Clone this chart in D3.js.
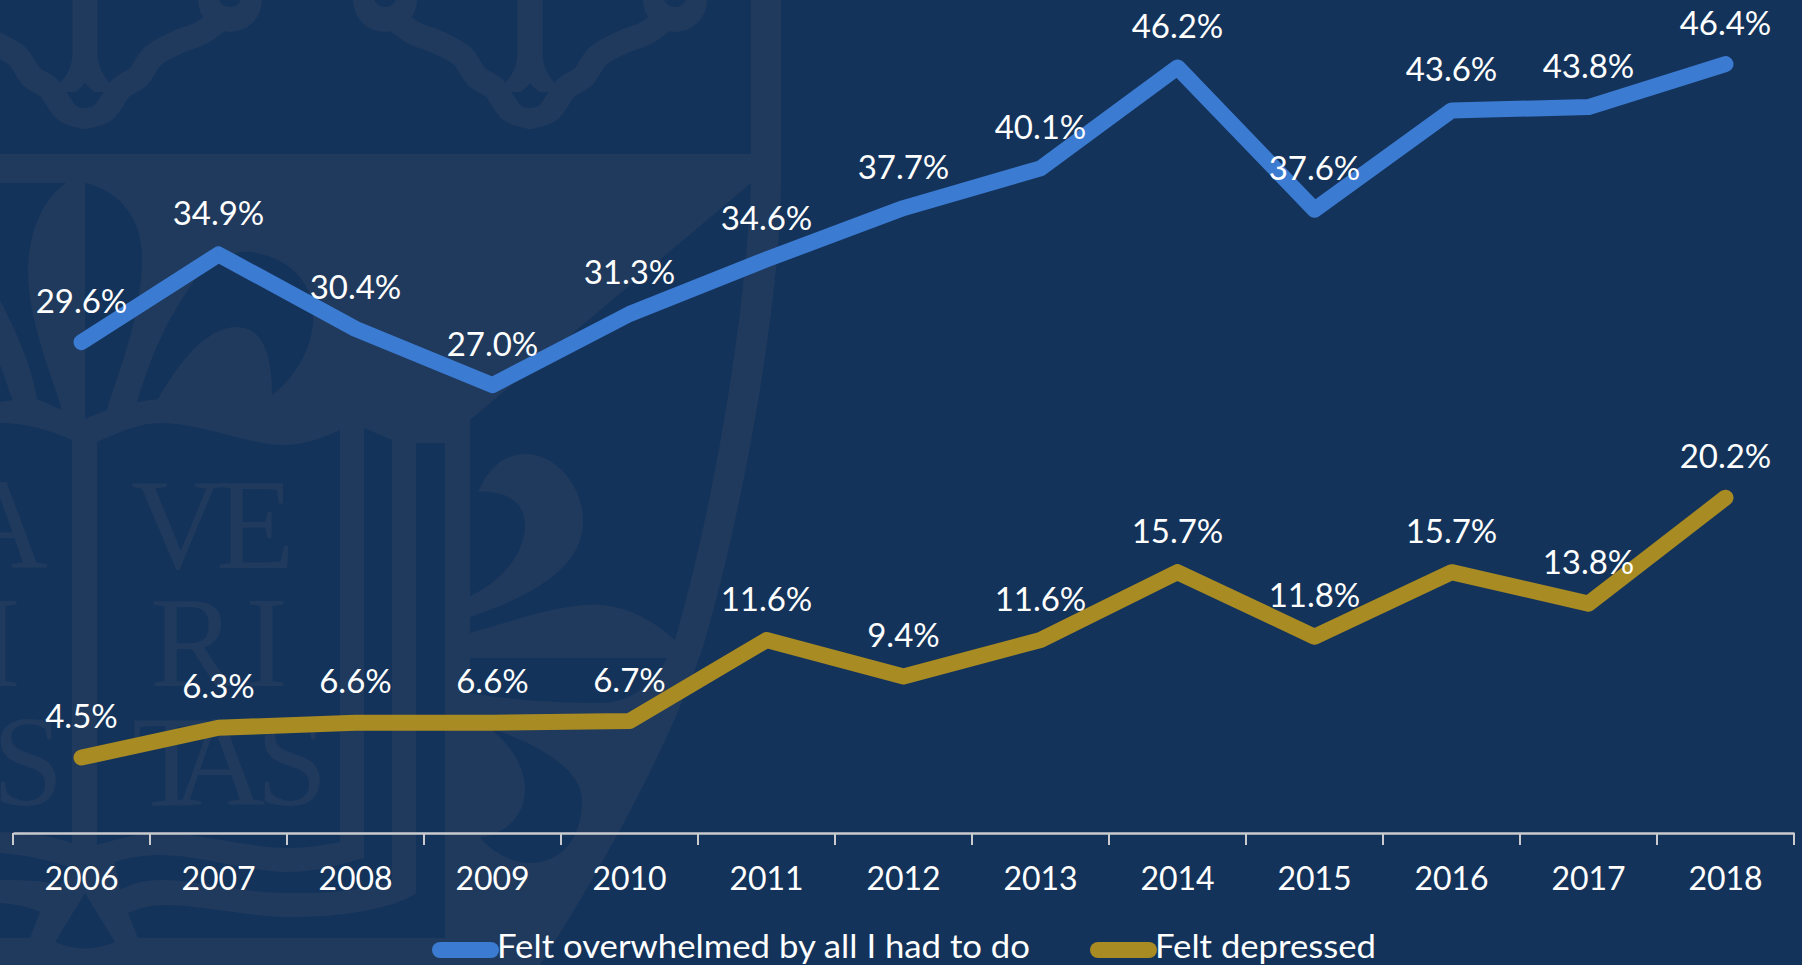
<!DOCTYPE html>
<html>
<head>
<meta charset="utf-8">
<script src="https://cdnjs.cloudflare.com/ajax/libs/d3/7.8.5/d3.min.js"></script>
<style>
html,body{margin:0;padding:0;background:#14335a;overflow:hidden}
svg{display:block}
text{font-family:Lato,"Open Sans",sans-serif;fill:#fff}
</style>
</head>
<body>
<svg id="chart" width="1802" height="965"></svg>
<script>
const years = ["2006","2007","2008","2009","2010","2011","2012","2013","2014","2015","2016","2017","2018"];
const overwhelmed = [29.6,34.9,30.4,27.0,31.3,34.6,37.7,40.1,46.2,37.6,43.6,43.8,46.4];
const depressed = [4.5,6.3,6.6,6.6,6.7,11.6,9.4,11.6,15.7,11.8,15.7,13.8,20.2];
const seriesNames = ["Felt overwhelmed by all I had to do","Felt depressed"];
const seriesColors = ["#3b7bd2","#a88b23"];

const BG = "#14335a", WM = "#203a5d";
const svg = d3.select("#chart");
svg.append("rect").attr("width",1802).attr("height",965).attr("fill",BG);

/* ---------- decorative crest watermark ---------- */
const wm = svg.append("g").attr("class","watermark");
wm.append("path").attr("fill",WM).attr("d",
  "M0,154 L751,154 L751,0 L781,0 L781,190 C778,320 740,520 705,640 C680,720 620,840 540,965 L0,965 Z");

const darkHoles = [
  "M751,183 L470,420 L470,633 C510,622 560,603 600,605 C630,607 655,622 675,640 C710,520 745,330 751,183 Z",
  "M470,658 L667,658 C650,690 625,703 600,703 C560,703 510,700 470,693 Z",
  "M490,728 C540,745 582,770 582,800 C582,840 560,863 530,863 C510,863 490,850 480,837 C505,835 525,815 525,790 C525,765 510,745 490,728 Z",
  "M85,183 C120,190 142,220 142,257 C142,320 115,380 107,410 L85,419 Z",
  "M0,183 L66,183 C40,200 28,240 28,270 C28,320 50,370 62,410 L37,399 C30,360 15,330 0,300 Z",
  "M0,365 C6,380 10,395 13,400 L0,402 Z",
  "M137,402 C150,360 165,320 197,277 C215,260 235,250 250,252 C280,255 310,275 313,310 C316,345 295,378 272,395 C272,375 270,340 250,330 C215,315 180,360 158,399 Z",
  "M0,423 C25,423 50,430 72,440 L72,843 C50,835 25,832 0,832 Z",
  "M97,442 C120,432 140,423 160,423 C200,423 250,445 283,445 C305,445 325,437 340,430 L340,842 C325,845 305,848 287,848 C250,848 200,833 160,833 C140,833 120,838 97,845 Z",
  "M364,428 L392,440 L392,882 L364,886 Z",
  "M416,443 L445,443 L445,900 L416,900 Z",
  "M115,862 C130,857 145,855 160,855 C200,855 250,872 287,872 C315,872 340,865 364,858 L392,870 L392,882 C340,895 300,893 287,893 C240,893 200,880 160,880 C145,880 130,884 120,890 Z",
  "M128,913 C140,908 150,905 165,905 C200,905 250,917 290,917 C340,917 390,910 417,893 L445,893 L445,938 L138,938 Z",
  "M0,853 C25,855 50,860 72,868 L60,885 C40,880 20,880 0,880 Z",
  "M0,903 C15,904 30,907 40,912 L30,938 L0,938 Z",
  "M85,893 L115,942 Q85,955 55,942 Z"
];
wm.selectAll("path.hole").data(darkHoles).join("path").attr("class","hole").attr("fill",BG).attr("d",d=>d);
wm.append("path").attr("fill",WM).attr("d",
  "M470,596 L478,492 C490,465 505,454 527,454 C560,456 583,490 583,520 C583,560 550,590 470,617 L470,596 C500,582 525,555 525,525 C525,505 510,490 478,492 Z");

const wmLetters = [["A",-45,568],["V",131,568],["E",216,568],["I",-22,686],["R",150,686],["I",245,686],["S",-8,805],["T",132,805],["A",172,805],["S",256,805]];
wm.selectAll("text").data(wmLetters).join("text")
  .attr("x",d=>d[1]).attr("y",d=>d[2]).text(d=>d[0])
  .attr("aria-hidden","true")
  .style("font-family","'Liberation Serif',serif").style("font-size","129px").style("fill",WM);

const armPts = [[0,117],[20,110],[36,88],[53,77],[68,56],[93,42],[118,32],[145,10]];
const arm = d3.line().curve(d3.curveCatmullRom.alpha(0.5));
[85,530].forEach(cx=>{
  const g = wm.append("g").attr("transform",`translate(${cx},0)`);
  [1,-1].forEach(s=>{
    const side = g.append("g").attr("transform",`scale(${s},1)`);
    side.append("path").attr("d",arm(armPts)).attr("fill","none").attr("stroke",WM).attr("stroke-width",24).attr("stroke-linecap","round");
    side.append("circle").attr("cx",145).attr("cy",0).attr("r",32).attr("fill",WM);
    side.append("circle").attr("cx",145).attr("cy",-5).attr("r",12).attr("fill",BG);
  });
  g.append("path").attr("fill",WM).attr("d","M-12.5,-2 L12.5,-2 L12.5,55 Q14,78 36,92 L-36,92 Q-14,78 -12.5,55 Z");
  g.append("path").attr("fill",BG).attr("d","M0,83 C5,90 13,92 13,98 C13,105 6,108 0,108 C-6,108 -13,105 -13,98 C-13,92 -5,90 0,83 Z");
});

/* ---------- chart ---------- */
const x = d3.scaleBand().domain(years).range([13,1794]);
const y = d3.scaleLinear().domain([0,50]).range([832,4.5]);
const cx = d => x(d) + x.bandwidth()/2;

const axis = d3.axisBottom(x).tickSize(0).tickPadding(0);
const axisG = svg.append("g").attr("transform","translate(0,833)").call(axis);
axisG.select(".domain").attr("stroke","#c9cbce").attr("stroke-width",2.5);
axisG.selectAll("text").attr("y",57).attr("dy",0)
  .style("font-size","32px").style("font-family","Lato").attr("fill","#fff");
const edges = years.map(d=>x(d)).concat([x.range()[1]]);
axisG.selectAll("line.edge").data(edges).join("line").attr("class","edge")
  .attr("x1",d=>d).attr("x2",d=>d).attr("y1",0).attr("y2",12)
  .attr("stroke","#c9cbce").attr("stroke-width",2);

const line = d3.line().x(d=>cx(d.year)).y(d=>y(d.value));
const series = [overwhelmed,depressed].map((vals,i)=>({
  name:seriesNames[i],color:seriesColors[i],
  points:vals.map((value,j)=>({year:years[j],value}))
}));

svg.append("g").selectAll("path").data(series).join("path")
  .attr("fill","none").attr("stroke",d=>d.color).attr("stroke-width",16)
  .attr("stroke-linecap","round").attr("stroke-linejoin","round")
  .attr("d",d=>line(d.points));

svg.append("g").selectAll("g").data(series).join("g")
  .selectAll("text").data(d=>d.points).join("text")
  .attr("x",d=>cx(d.year)).attr("y",d=>y(d.value)-29.5)
  .attr("text-anchor","middle").style("font-size","33px")
  .text(d=>d.value.toFixed(1)+"%");

/* ---------- legend ---------- */
const legendX = [432,1090], legendW = [533,221];
const leg = svg.append("g").selectAll("g").data(series).join("g")
  .attr("transform",(d,i)=>`translate(${legendX[i]},0)`);
leg.append("rect").attr("x",0).attr("y",942).attr("width",67).attr("height",16).attr("rx",8)
  .attr("fill",d=>d.color);
leg.append("text").attr("x",65).attr("y",958).style("font-size","32px")
  .attr("textLength",(d,i)=>legendW[i]).attr("lengthAdjust","spacingAndGlyphs")
  .text(d=>d.name);
</script>
</body>
</html>
